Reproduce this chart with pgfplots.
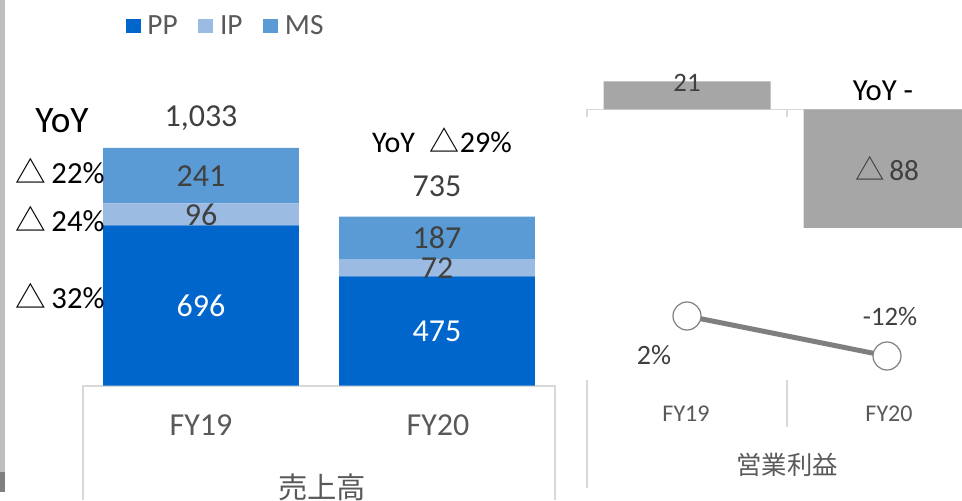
\documentclass[border=0pt]{standalone}
\usepackage{pgfplots}
\pgfplotsset{compat=1.18}
\usepackage{pgfplotstable}
\usepackage{fontspec}
\setmainfont{Carlito}
\newfontfamily\jp{Noto Sans CJK JP}
\definecolor{ppc}{HTML}{0066CC}
\definecolor{ipc}{HTML}{9BBBE3}
\definecolor{msc}{HTML}{5B9BD5}
\definecolor{barg}{HTML}{A6A6A6}
\definecolor{lineg}{HTML}{7F7F7F}
\definecolor{labc}{HTML}{404040}
\definecolor{axc}{HTML}{595959}
\definecolor{gridc}{HTML}{D9D9D9}
\definecolor{stripc}{HTML}{BFBFBF}
\definecolor{stripd}{HTML}{808080}
\newcommand\tri{{\jp △}}
\newcommand\fs[1]{\fontsize{#1}{#1}\selectfont}

\pgfplotstableread{
x pp ip ms
0 696 96 241
1 475 72 187
}\sales

\pgfplotstableread{
x op
0 21
1 -88
}\profit

\pgfplotstableread{
x margin
0 2
1 -12
}\margin

\begin{document}
\begin{tikzpicture}[x=0.75pt,y=0.75pt]
\path[use as bounding box] (0,0) rectangle (962,500);
\clip (0,0) rectangle (962,500);
\fill[white] (0,0) rectangle (962,500);
\coordinate (SA) at (83,114.5);
\coordinate (PA) at (587,256.1);
\coordinate (MA) at (587,121.14);
% left edge strip
\fill[stripc] (0,500) rectangle (4.5,28);
\fill[stripd] (0,28) rectangle (4.5,8);
% left frame
\draw[gridc, line width=1.1pt] (83,0)--(83,114)--(555,114)--(555,0);
% right frame
\draw[gridc, line width=1.1pt] (587,390.5)--(962,390.5);
\draw[gridc, line width=1.1pt] (587,390.5)--(587,383);
\draw[gridc, line width=1.1pt] (787,390.5)--(787,383);
\draw[gridc, line width=1.1pt] (587,120)--(587,12);
\draw[gridc, line width=1.1pt] (787,120)--(787,73);

% ---- sales stacked bars
\begin{axis}[
  at={(SA)}, anchor=south west,
  scale only axis, width=354pt, height=189.75pt,
  xmin=-0.5, xmax=1.5, ymin=0, ymax=1100,
  hide axis, ybar stacked, bar width=0.83,
  legend columns=3,
  legend image code/.code={\fill[#1] (0pt,-5.6pt) rectangle (11.25pt,5.6pt);},
  legend style={at={(0.09,1.421)}, anchor=west, draw=none, fill=none,
    inner sep=0pt, font=\fs{22}\color{axc},
    nodes={inner sep=1.5pt},
    /tikz/every odd column/.append style={column sep=3.5pt},
    /tikz/every even column/.append style={column sep=14pt}},
]
\addplot[fill=ppc, draw=none] table[x=x,y=pp]{\sales};
\addlegendentry{PP}
\addplot[fill=ipc, draw=none] table[x=x,y=ip]{\sales};
\addlegendentry{IP}
\addplot[fill=msc, draw=none] table[x=x,y=ms]{\sales};
\addlegendentry{MS}
\end{axis}

% ---- sales labels
\begin{axis}[
  at={(SA)}, anchor=south west,
  scale only axis, width=354pt, height=189.75pt,
  xmin=-0.5, xmax=1.5, ymin=0, ymax=1100,
  hide axis, clip=false,
  nodes near coords style={anchor=center, font=\fs{24}, text=labc},
]
\addplot[draw=none, nodes near coords, point meta=explicit symbolic,
  nodes near coords style={text=white}]
  coordinates {(0,348)[696] (1,237.5)[475]};
\addplot[draw=none, nodes near coords, point meta=explicit symbolic]
  coordinates {(0,744)[96] (1,511)[72]};
\addplot[draw=none, nodes near coords, point meta=explicit symbolic]
  coordinates {(0,912.5)[241] (1,640.5)[187]};
\addplot[draw=none, nodes near coords, point meta=explicit symbolic,
  nodes near coords style={yshift=22.5pt}]
  coordinates {(0,1033)[{1,033}] (1,735)[735]};
\end{axis}

% ---- operating profit bars
\begin{axis}[
  at={(PA)}, anchor=south west,
  scale only axis, width=300pt, height=141.12pt,
  xmin=-0.5, xmax=1.5, ymin=-100, ymax=40,
  hide axis, ybar, bar width=0.835,
]
\addplot[fill=barg, draw=none] table[x=x,y=op]{\profit};
\end{axis}
\begin{axis}[
  at={(PA)}, anchor=south west,
  scale only axis, width=300pt, height=141.12pt,
  xmin=-0.5, xmax=1.5, ymin=-100, ymax=40,
  hide axis, clip=false,
  nodes near coords style={anchor=center, text=labc},
]
\addplot[draw=none, nodes near coords, point meta=explicit symbolic,
  nodes near coords style={font=\fs{20}, yshift=-1pt}]
  coordinates {(0,21)[21]};
\addplot[draw=none, nodes near coords, point meta=explicit symbolic,
  nodes near coords style={font=\fs{22}}]
  coordinates {(1,-44)[\tri\,88]};
\end{axis}

% ---- margin line
\begin{axis}[
  at={(MA)}, anchor=south west,
  scale only axis, width=300pt, height=64.29pt,
  xmin=-0.5, xmax=1.5, ymin=-20, ymax=10,
  hide axis, clip=false,
  nodes near coords style={anchor=center, text=labc},
]
\addplot[lineg, line width=3.75pt, mark=*, mark size=10.5pt,
  mark options={fill=white, draw=lineg, line width=0.9pt}]
  table[x=x,y=margin]{\margin};
\addplot[draw=none, nodes near coords, point meta=explicit symbolic,
  nodes near coords style={font=\fs{21}, xshift=-24.75pt, yshift=-29.25pt}]
  coordinates {(0,2)[2\%]};
\addplot[draw=none, nodes near coords, point meta=explicit symbolic,
  nodes near coords style={font=\fs{20}, xshift=2.25pt, yshift=29.25pt}]
  coordinates {(1,-12)[-12\%]};
\end{axis}

% ---- texts
\node[font=\fs{28}, text=black] at (62,379) {YoY};
\node[font=\fs{23}, text=black, anchor=west] at (11,329) {\tri\,22\%};
\node[font=\fs{23}, text=black, anchor=west] at (11,281) {\tri\,24\%};
\node[font=\fs{23}, text=black, anchor=west] at (11,204) {\tri\,32\%};
\node[font=\fs{22.5}, text=black] at (442,360) {YoY\enspace\tri 29\%};
\node[font=\fs{23}, text=black] at (883,409) {YoY -};
\node[font=\fs{24}, text=axc] at (201,74.5) {FY19};
\node[font=\fs{24}, text=axc] at (438,74.5) {FY20};
\node[font=\jp\fs{22}, text=axc] at (322,13) {売上高};
\node[font=\fs{18}, text=axc] at (686,86) {FY19};
\node[font=\fs{18}, text=axc] at (889,86) {FY20};
\node[font=\jp\fs{19}, text=axc] at (787,35) {営業利益};
\end{tikzpicture}
\end{document}
